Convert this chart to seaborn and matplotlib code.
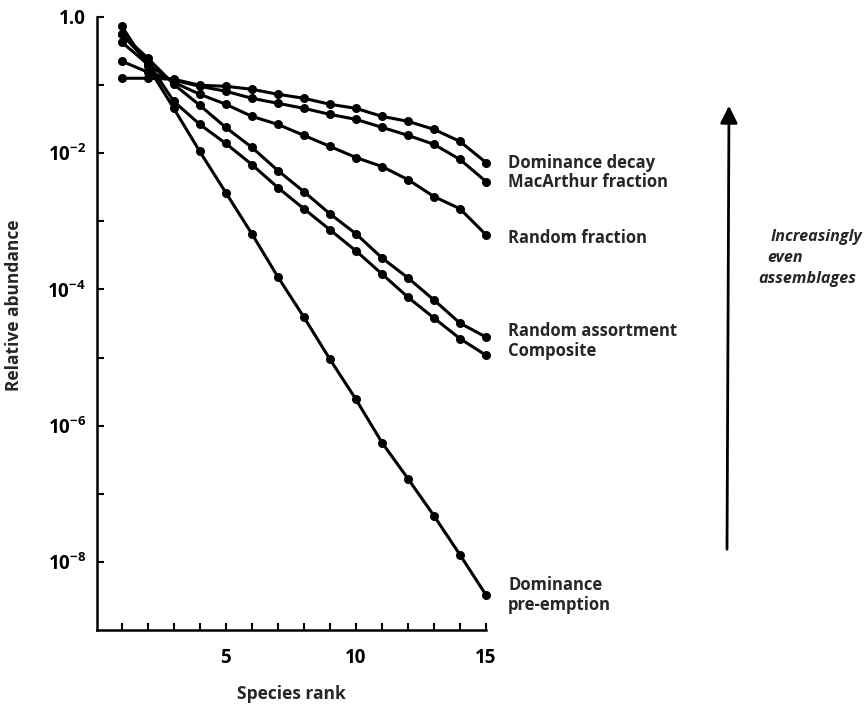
import numpy as np
import pandas as pd
import matplotlib
matplotlib.use("Agg")
import matplotlib.pyplot as plt
import seaborn as sns

# ---- data ----
ranks = list(range(1, 16))
dominance_decay = [0.126, 0.126, 0.122, 0.0995, 0.0962, 0.0869, 0.0734, 0.0641,
                   0.0523, 0.0456, 0.0348, 0.0294, 0.0224, 0.0149, 0.0073]
macarthur_fraction = [0.225, 0.155, 0.118, 0.096, 0.0813, 0.0641, 0.0541, 0.0456,
                      0.0372, 0.0314, 0.0240, 0.0183, 0.0135, 0.0081, 0.00384]
random_fraction = [0.428, 0.203, 0.110, 0.0734, 0.0523, 0.0348, 0.0265, 0.0183,
                   0.0126, 0.00865, 0.00638, 0.00410, 0.00231, 0.00153, 0.000635]
random_assortment = [0.562, 0.249, 0.103, 0.0505, 0.0239, 0.0122, 0.00557, 0.00273,
                     0.00129, 0.000657, 0.000291, 0.000148, 7.0e-5, 3.2e-5, 2.0e-5]
composite = [0.562, 0.217, 0.0578, 0.0265, 0.0139, 0.00683, 0.00313, 0.00153,
             0.000753, 0.000369, 0.000169, 7.7e-5, 3.8e-5, 1.9e-5, 1.08e-5]
dominance_preemption = [0.737, 0.190, 0.0456, 0.0106, 0.00264, 0.000657, 0.000153,
                        3.93e-5, 9.46e-6, 2.44e-6, 5.66e-7, 1.67e-7, 4.76e-8,
                        1.27e-8, 3.27e-9]

series_names = ["Dominance decay", "MacArthur fraction", "Random fraction",
                "Random assortment", "Composite", "Dominance\npre-emption"]
series_values = [dominance_decay, macarthur_fraction, random_fraction,
                 random_assortment, composite, dominance_preemption]
ytick_values = [1e0, 1e-1, 1e-2, 1e-3, 1e-4, 1e-5, 1e-6, 1e-7, 1e-8]
ytick_labels = ["1.0", "", r"$\mathbf{10^{-2}}$", "", r"$\mathbf{10^{-4}}$", "",
                r"$\mathbf{10^{-6}}$", "", r"$\mathbf{10^{-8}}$"]
xtick_labels = {5: "5", 10: "10", 15: "15"}
label_offsets_px = [0, 0, 3, -6, -4, 0]  # vertical nudges of end labels

df = pd.DataFrame({
    "rank": np.tile(ranks, len(series_names)),
    "abundance": np.concatenate(series_values),
    "model": np.repeat(series_names, len(ranks)),
})

# ---- style ----
sns.set_theme(style="ticks")
FONT = "Open Sans"
plt.rcParams["font.family"] = [FONT, "DejaVu Sans"]
plt.rcParams["font.weight"] = "bold"
plt.rcParams["mathtext.fontset"] = "custom"
plt.rcParams["mathtext.rm"] = FONT
plt.rcParams["mathtext.bf"] = FONT + ":bold"
plt.rcParams["mathtext.it"] = FONT + ":italic"

fig = plt.figure(figsize=(8.65, 7.05), dpi=100)
ax = fig.add_axes([97 / 865, 1 - 630 / 705, (486 - 97) / 865, (630 - 17) / 705])

sns.lineplot(data=df, x="rank", y="abundance", hue="model", units="model",
             estimator=None, palette=["black"] * len(series_names),
             marker="o", markersize=6.5, markeredgewidth=0, linewidth=2.2,
             legend=False, ax=ax, clip_on=False)
ax.set_yscale("log")
ax.set_xlim(0.05, 15)
ax.set_ylim(1e-9, 1.0)

for s in ["top", "right"]:
    ax.spines[s].set_visible(False)
for s in ["left", "bottom"]:
    ax.spines[s].set_linewidth(1.8)
    ax.spines[s].set_color("black")

ax.set_xticks(ranks)
ax.set_xticklabels([xtick_labels.get(r, "") for r in ranks])
ax.set_yticks(ytick_values)
ax.set_yticklabels(ytick_labels)
ax.yaxis.set_minor_locator(matplotlib.ticker.NullLocator())
ax.tick_params(axis="both", direction="in", length=5, width=1.5, colors="black",
               labelsize=13.5)
ax.tick_params(axis="x", pad=13)
ax.tick_params(axis="y", pad=8)
for t in ax.get_xticklabels() + ax.get_yticklabels():
    t.set_fontweight("bold")

ax.set_xlabel("Species rank", fontsize=12.5, fontweight="bold", labelpad=12)
ax.set_ylabel("Relative abundance", fontsize=12.5, fontweight="bold", labelpad=10)
ax.yaxis.set_label_coords(-0.19, 0.53)

# end-of-line labels
for name, vals, dy in zip(series_names, series_values, label_offsets_px):
    ax.annotate(name, xy=(ranks[-1], vals[-1]), xytext=(16, -dy * 0.72),
                textcoords="offset points", va="center", ha="left",
                fontsize=12, fontweight="bold", linespacing=1.2)

# arrow and italic note
fig.add_artist(matplotlib.patches.FancyArrowPatch(
    posA=(727 / 865, 1 - 552 / 705), posB=(729 / 865, 1 - 103 / 705),
    transform=fig.transFigure, arrowstyle="-|>", mutation_scale=26,
    lw=2.0, color="black"))
fig.text(771 / 865, 1 - 237 / 705, "Increasingly", fontsize=11.6, fontweight="bold",
         style="italic", va="center", ha="left")
fig.text(767 / 865, 1 - 258 / 705, "even", fontsize=11.6, fontweight="bold",
         style="italic", va="center", ha="left")
fig.text(758 / 865, 1 - 279 / 705, "assemblages", fontsize=11.6, fontweight="bold",
         style="italic", va="center", ha="left")

fig.savefig("out.png", dpi=100, facecolor="white")
